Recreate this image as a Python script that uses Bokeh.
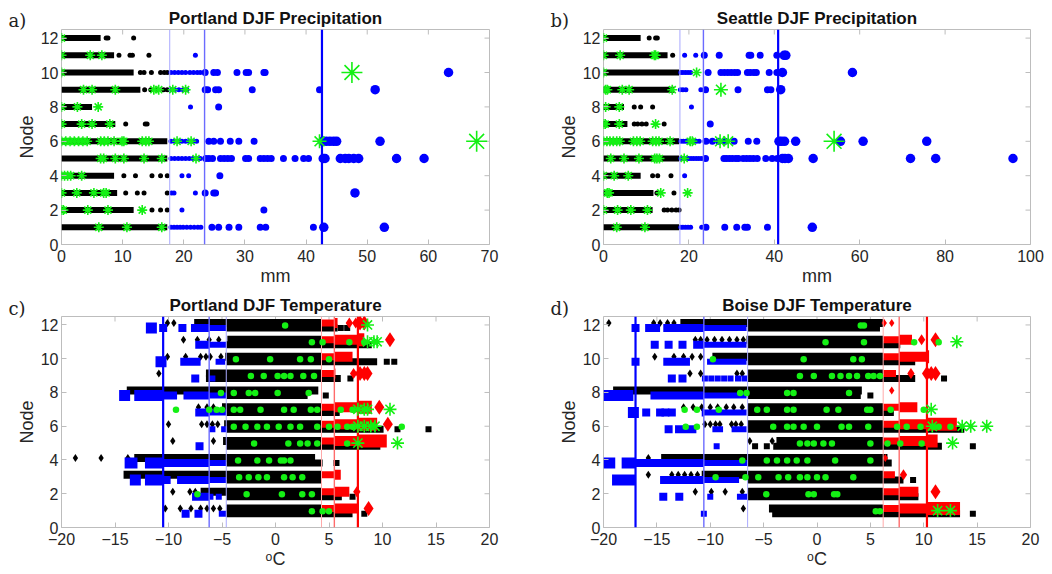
from bokeh.plotting import figure
from bokeh.layouts import gridplot
from bokeh.models import Range1d, FixedTicker, Label
from bokeh.embed import file_html
from bokeh.resources import INLINE

FONT = "Liberation Sans"
NODES = list(range(1, 13))
NODE_TICKS = [0, 2, 4, 6, 8, 10, 12]

# ---------------- Portland DJF precipitation (mm) ----------------
PDX_PR_TICKS = [0, 10, 20, 30, 40, 50, 60, 70]
PDX_PR_LIMITS = [17.7, 23.4, 42.6]
PDX_PR_DENSE_END = [17.3, 11.8, 9.1, 8.6, 17.3, 17.3, 8.8, 5.0, 12.9, 11.8, 8.6, 6.4]
PDX_PR_BLACK = {12: [7.3, 7.6, 11.8], 11: [9.4, 11.2, 11.6, 14.3],
                10: [12.9, 13.5, 14.7, 16.2, 16.8, 17.3], 9: [13.6, 14.6, 15.6, 16.7, 17.3],
                7: [10.5, 13.7, 14.0], 4: [10.2, 12.1, 14.8, 16.2, 17.3],
                3: [10.5, 12.4, 13.5, 17.3], 2: [14.8, 16.2, 17.3]}
PDX_PR_BLUE = {
    1: [17.9, 18.4, 18.9, 19.4, 19.9, 20.5, 21.1, 21.7, 22.3, 22.8, 24.6, 25.7, 27.4, 29.0,
        32.5, 33.4, 41.2, 42.9, 52.8],
    2: [19.7, 33.1],
    3: [18.0, 18.4, 21.9, 23.5, 24.9, 25.2, 48.0],
    4: [19.7, 20.8, 25.9],
    5: [17.9, 18.5, 19.1, 19.7, 20.3, 20.9, 21.5, 22.1, 22.7, 23.6, 24.1, 24.7, 26.0, 26.6,
        27.2, 27.8, 30.1, 30.6, 32.5, 33.1, 33.7, 34.3, 36.3, 38.2, 39.6, 40.4, 42.8, 43.1,
        45.6, 46.4, 47.0, 47.8, 48.6, 54.8, 59.3],
    6: [17.9, 18.5, 19.1, 19.7, 20.3, 20.9, 21.5, 22.1, 24.1, 24.9, 26.0, 27.6, 29.0, 31.5,
        42.7, 43.3, 43.9, 44.5, 45.0, 52.1],
    8: [21.1, 25.7],
    9: [17.9, 18.5, 19.2, 19.9, 20.5, 23.5, 23.9, 25.2, 25.7, 31.2, 42.2, 51.3],
    10: [17.9, 18.5, 19.1, 19.7, 20.3, 21.0, 21.6, 22.2, 22.7, 23.5, 24.9, 25.5, 28.7, 30.2,
         30.6, 33.1, 33.3, 63.3],
    11: [21.9],
}
PDX_PR_STARS = {
    12: [0.0], 11: [0.0, 4.7, 6.6], 10: [0.0, 47.5],
    9: [3.6, 5.0, 8.8, 15.1, 15.9, 18.2, 20.3], 8: [0.0, 2.6, 6.0], 7: [0.0, 3.3, 5.0, 7.9],
    6: [0.0, 0.7, 1.4, 2.1, 2.8, 3.5, 4.2, 6.4, 7.0, 7.6, 8.6, 9.9, 10.2, 13.2, 13.8, 14.3,
        18.9, 21.2, 42.2, 67.9],
    5: [6.4, 6.9, 8.8, 10.2, 13.5, 16.4, 22.0], 4: [0.0, 0.5, 1.0, 1.5, 3.3],
    3: [0.0, 2.5, 5.3, 6.9, 7.3], 2: [0.0, 0.3, 4.3, 7.6, 13.2], 1: [6.1, 10.7, 16.4],
}

# ---------------- Seattle DJF precipitation (mm) ----------------
SEA_PR_TICKS = [0, 20, 40, 60, 80, 100]
SEA_PR_LIMITS = [17.9, 23.4, 40.9]
SEA_PR_DENSE_END = [17.7, 11.5, 11.7, 8.7, 17.7, 17.7, 5.6, 4.8, 16.5, 17.7, 15.0, 8.7]
SEA_PR_BLACK = {12: [10.7, 12.2, 12.6], 11: [16.2], 8: [7.2, 8.7, 11.5],
                7: [7.2, 8.0, 9.0, 10.0, 14.2], 4: [11.5, 12.7, 15.8], 3: [12.5, 16.5],
                2: [14.2, 15.0, 16.0, 17.0, 17.7]}
SEA_PR_BLUE = {
    1: [18.1, 18.6, 19.2, 19.8, 20.4, 23.0, 24.0, 28.4, 31.2, 33.1, 33.7, 38.4, 48.9],
    4: [19.0],
    5: [18.1, 18.7, 19.3, 19.9, 20.5, 21.1, 21.7, 22.3, 22.9, 23.9, 28.2, 28.8, 29.5, 30.2,
        31.0, 31.6, 32.7, 33.5, 34.3, 35.1, 36.0, 38.0, 39.5, 40.7, 41.9, 42.5, 43.3, 49.1,
        71.9, 77.8, 95.9],
    6: [18.1, 18.7, 19.3, 19.9, 20.5, 21.1, 21.7, 22.4, 24.0, 25.5, 27.0, 28.5, 30.6, 33.9,
        35.9, 41.1, 41.7, 42.4, 45.0, 55.5, 60.8, 75.7],
    7: [25.0],
    8: [20.6],
    9: [18.0, 18.6, 19.3, 22.8, 23.9, 31.5, 38.4, 39.2, 41.5],
    10: [18.1, 18.6, 19.2, 19.8, 20.4, 24.5, 27.5, 28.3, 29.1, 29.9, 30.7, 31.4, 33.7, 34.4,
         35.2, 35.8, 38.8, 40.6, 41.9, 58.3],
    11: [19.0, 21.6, 23.6, 27.1, 34.1, 34.5, 36.7, 40.6, 42.3, 42.7],
}
SEA_PR_STARS = {
    12: [0.0], 11: [0.0, 3.9, 11.9, 12.2], 10: [0.0, 21.8], 9: [0.5, 0.9, 4.4, 6.0, 16.1, 27.5],
    8: [0.5, 3.7], 7: [0.0, 0.4, 3.7, 12.2],
    6: [0.0, 0.8, 1.5, 2.3, 3.1, 3.8, 7.0, 7.8, 8.6, 11.5, 12.3, 13.0, 15.6, 20.3, 20.8,
        27.3, 29.2, 54.0],
    5: [1.7, 4.8, 8.3, 12.0, 12.5, 13.1, 18.9], 4: [0.0, 2.5, 5.8],
    3: [0.9, 1.3, 13.4, 19.7], 2: [0.0, 3.3, 6.4, 10.3], 1: [3.1, 9.7],
}

# ---------------- temperature axes (deg C) ----------------
T_TICKS = [-20, -15, -10, -5, 0, 5, 10, 15, 20]

# ---------------- Portland DJF temperature ----------------
PDX_T_COLD = [-10.5, -6.2, -4.6]
PDX_T_WARM = [4.3, 5.5, 7.7]
PDX_T_DIAM_BAND = [(-4.6, 4.3), (-7.0, 4.3), (-14.2, 4.3), (-13.2, 3.7), (-4.9, 4.3), (-4.8, 4.3),
                   (-5.0, 4.3), (-13.9, 4.0), (-6.5, 4.3), (-4.7, 4.3), (-4.5, 4.3), (-7.6, 4.3)]
PDX_T_DIAM = {1: [-10.3, -8.9, -7.9, -7.0, -6.4, -5.8, -5.2], 2: [-9.6, -8.0, -7.5],
              4: [-18.7, -16.3, -13.8], 5: [-9.6, -5.8], 6: [-10.0, -6.9, -6.4, -5.9, -5.4],
              7: [-7.2, -6.4, -5.8], 9: [-10.9], 10: [-10.1, -8.4, -7.0, -6.5, -6.1, -5.1],
              11: [-8.6, -7.3, -6.2, -5.3], 12: [-10.1, -9.5]}
PDX_T_SQ_BAND = [(-4.6, 7.2), (-4.6, 6.2), (-4.6, 4.3), (-4.6, 4.4), (-4.6, 9.8), (-4.6, 10.1),
                 (-4.6, 6.0), (-4.6, 3.0), (-6.5, 6.1), (-4.6, 9.5), (-4.6, 9.0), (-4.6, 5.8)]
PDX_T_SQ = {1: [8.3], 2: [7.2], 4: [5.7], 6: [11.4, 14.3], 8: [4.7], 9: [7.0],
            10: [10.4, 11.1], 12: [6.1, 6.7]}
PDX_T_BLUE_RUNS = {1: [(-5.3, -4.6)], 2: [(-7.8, -5.8)], 3: [(-12.2, -9.8), (-9.2, -4.6)],
                   4: [(-14.1, -12.9), (-12.2, -4.6)], 7: [(-7.5, -4.6)],
                   8: [(-13.2, -9.2), (-8.6, -4.6)], 10: [(-8.9, -7.0), (-5.6, -4.7)],
                   11: [(-7.5, -4.6)], 12: [(-7.9, -4.6)]}
PDX_T_BLUE = {1: [-8.4, -7.2], 2: [-5.3], 3: [-13.1], 5: [-7.1], 6: [-5.9, -4.8], 8: [-14.1],
              9: [-7.5, -5.9], 10: [-10.7], 12: [-11.6, -10.5, -8.7]}
PDX_T_RED_RUNS = {1: [(4.3, 7.8)], 2: [(4.3, 6.9)], 3: [(4.3, 6.1)], 5: [(4.3, 10.4)],
                  6: [(4.3, 9.5)], 7: [(4.3, 9.0)], 9: [(4.3, 5.6)], 10: [(4.3, 7.2)],
                  11: [(4.3, 8.3)], 12: [(4.3, 5.8)]}
PDX_T_RED = {1: [8.7], 2: [7.6], 6: [10.5], 7: [9.7], 9: [7.3, 7.9, 8.3, 8.6], 11: [10.7],
             12: [6.9, 7.5, 7.9, 8.3]}
PDX_T_GREEN = {1: [3.4, 4.4, 5.0], 2: [-7.3, -2.7, 0.6, 2.5, 3.4],
               3: [-3.4, -2.5, -1.6, -0.8, 0.8, 1.6, 2.5], 4: [-3.5, -1.7, -0.6, 0.5, 0.8, 1.4],
               5: [-2.0, 1.2, 2.3, 3.0, 3.9, 6.7],
               6: [-3.9, -2.8, -1.7, -0.8, 0.3, 1.4, 2.3, 3.9, 5.0, 5.8, 6.7, 7.2, 11.8],
               7: [-9.3, -6.2, -5.5, -5.0, -3.9, -3.3, -1.4, 0.8, 1.7, 3.3, 3.9, 6.1, 7.2],
               8: [-5.1, -3.9, -2.5, -1.9, 0.2, 3.1], 9: [-2.3, -1.1, 0.2, 0.8, 1.4, 2.6, 3.6],
               10: [-3.7, -0.5, 2.3, 3.3, 5.0], 11: [3.4, 4.4, 6.9, 8.3], 12: [0.9]}
PDX_T_STARS = {12: [8.6], 11: [8.6, 9.2, 9.5], 7: [7.7, 8.3, 8.6, 10.7], 6: [7.7, 8.3, 8.9, 9.3],
               5: [7.7, 11.4]}

# ---------------- Boise DJF temperature ----------------
BOI_T_COLD = [-17.0, -10.6, -6.5]
BOI_T_WARM = [6.2, 7.7, 10.3]
BOI_T_DIAM_BAND = [(-4.5, 6.2), (-6.5, 6.2), (-10.8, 6.2), (-14.6, 6.6), (-3.8, 6.2), (-6.5, 6.2),
                   (-6.5, 6.2), (-19.1, 4.2), (-6.5, 6.2), (-9.8, 6.2), (-6.6, 6.2), (-12.8, 6.2)]
BOI_T_DIAM = {1: [-6.9], 2: [-11.4, -9.9, -8.6, -7.0], 3: [-15.8, -13.6, -13.0, -12.4, -11.8, -11.2],
              4: [-15.8], 5: [-6.3, -4.2], 6: [-10.5, -10.0, -9.5, -9.1, -8.0, -7.6, -7.1],
              7: [-12.5, -11.6, -10.8, -10.0, -9.3, -8.5, -7.8, -7.0], 9: [-11.9, -10.9, -7.5, -7.0],
              10: [-15.2, -13.4, -12.5, -11.7, -10.9],
              11: [-11.4, -10.9, -10.3, -9.6, -8.9, -8.2, -7.5, -6.9],
              12: [-19.5, -15.3, -14.7, -14.0, -13.4]}
BOI_T_SQ_BAND = [(-4.2, 13.4), (-6.5, 9.5), (-6.5, 8.1), (-6.5, 7.0), (-4.1, 11.7), (-6.5, 13.8),
                 (-6.5, 7.2), (-6.5, 4.1), (-6.5, 9.2), (-6.5, 9.2), (-6.5, 7.8), (-6.5, 5.9)]
BOI_T_SQ = {1: [14.6], 3: [9.0], 5: [-5.8, -4.7, 14.6], 8: [5.0], 9: [11.9]}
BOI_T_BLUE_RUNS = {2: [(-7.5, -6.5)], 3: [(-19.2, -17.0), (-14.7, -7.3)],
                   4: [(-20.0, -18.9), (-18.3, -6.5)],
                   6: [(-13.3, -11.3), (-9.8, -8.8), (-8.0, -6.6)], 7: [(-10.8, -6.6)],
                   8: [(-20.0, -17.2), (-15.6, -6.6)], 10: [(-14.4, -11.9), (-10.3, -6.6)],
                   11: [(-11.6, -6.6)], 12: [(-16.1, -14.7), (-14.4, -6.6)]}
BOI_T_BLUE = {1: [-10.6], 2: [-14.4, -12.9, -10.0], 5: [-9.4], 6: [-13.9],
              7: [-17.2, -16.0, -14.7, -14.2, -13.6],
              9: [-13.6, -12.6, -10.5, -9.9, -9.3, -8.7, -8.1, -7.4, -6.8], 10: [-17.0],
              11: [-15.2, -13.9, -12.6], 12: [-17.0]}
BOI_T_RED_RUNS = {1: [(6.2, 13.4)], 2: [(6.2, 9.5)], 3: [(6.2, 7.3)], 5: [(6.2, 11.3)],
                  6: [(6.2, 13.1)], 7: [(6.2, 9.4)], 9: [(6.2, 7.4)], 10: [(6.2, 10.5)],
                  11: [(6.2, 8.9)]}
BOI_T_RED = {2: [11.1], 3: [8.1], 4: [6.4], 8: [7.0], 9: [8.8, 10.3, 10.7, 11.1],
             11: [9.8, 11.1], 12: [6.3, 7.0]}
BOI_T_GREEN = {1: [5.5, 5.9], 2: [-4.75, -0.8, -0.3, 1.6, 1.9],
               3: [-9.5, -6.7, -5.5, -3.6, -2.7, -1.6, -0.9, 0.0, 0.8, 3.4],
               4: [-7.0, -4.7, -3.75, -2.8, -1.9, -0.9, 1.7, 5.0],
               5: [-1.6, -0.9, -0.3, 0.6, 1.4, 5.0, 6.6, 7.8, 9.8],
               6: [-12.3, -11.25, -4.1, -2.8, -2.2, -1.25, 0.0, 2.3, 3.0, 4.8, 7.5, 8.4, 9.7,
                   10.9, 11.4, 12.5],
               7: [-12.4, -11.25, -9.2, -5.6, -4.7, -2.8, -2.2, 0.9, 2.0, 4.7, 5.0, 6.9, 10.0],
               8: [-7.2, -6.6, -2.8, -2.2, 3.0], 9: [-1.6, -0.3, 1.4, 2.2, 3.0, 3.75, 4.8, 5.3, 5.9],
               10: [-9.75, -1.25, 3.4, 4.2], 11: [0.8, 4.4, 9.1, 11.4], 12: [4.1, 4.4]}
BOI_T_STARS = {1: [11.3, 12.5], 5: [12.7], 6: [10.8, 13.6, 14.4, 15.9], 7: [10.7], 11: [13.1]}

BLUE, RED, GREEN = "#0000ff", "#ff0000", "#14f014"
BLUE_LINES = ["#0000ff", "#6b6bff", "#a9a9ff"]     # dark, medium, light
RED_LINES = ["#ffa9a9", "#ff6b6b", "#ff0000"]      # light, medium, dark
PR_LINES = ["#a9a9ff", "#6b6bff", "#0000ff"]       # light, medium, dark
LINE_WIDTHS_UP = [1, 1.4, 2.2]
LINE_WIDTHS_DOWN = [2.2, 1.4, 1]
BOX = "#bdbdbd"
YMAX = 12.5


def flatten(d, offset=0.0):
    xs, ys = [], []
    for node, vals in d.items():
        for v in vals:
            xs.append(v)
            ys.append(node + offset)
    return xs, ys


def rising_size(v, lim, sizes):
    if v < lim[1]:
        return sizes[0]
    if v < lim[2]:
        return sizes[1]
    return sizes[2]


def falling_size(v, lim, sizes):
    if v >= lim[1]:
        return sizes[0]
    if v >= lim[0]:
        return sizes[1]
    return sizes[2]


def run_pieces(runs, cuts, offset):
    xs, ys, ws = [], [], []
    for node, segs in runs.items():
        for a, b in segs:
            pts = sorted([a, b] + [c for c in cuts if a < c < b])
            for p0, p1 in zip(pts[:-1], pts[1:]):
                xs.append((p0 + p1) / 2)
                ws.append(p1 - p0)
                ys.append(node + offset)
    return xs, ys, ws


def base_figure(title, letter, xr, xticks, xlabel, fw, fh, left, right, top, bottom, letter_gap):
    p = figure(frame_width=fw, frame_height=fh, x_range=Range1d(*xr), y_range=Range1d(0, YMAX),
               min_border_left=left, min_border_right=right, min_border_top=top,
               min_border_bottom=bottom, toolbar_location=None, tools="", output_backend="svg")
    p.xgrid.visible = False
    p.ygrid.visible = False
    p.outline_line_color = BOX
    p.outline_line_width = 1
    p.xaxis.ticker = FixedTicker(ticks=xticks)
    p.yaxis.ticker = FixedTicker(ticks=NODE_TICKS)
    p.xaxis.axis_label = xlabel
    p.yaxis.axis_label = "Node"
    for ax in list(p.xaxis) + list(p.yaxis):
        ax.axis_line_color = None
        ax.major_tick_in = 5
        ax.major_tick_out = 0
        ax.major_tick_line_color = BOX
        ax.minor_tick_line_color = None
        ax.major_label_text_font = FONT
        ax.major_label_text_font_size = "16px"
        ax.major_label_text_color = "#262626"
        ax.axis_label_text_font = FONT
        ax.axis_label_text_font_size = "18px"
        ax.axis_label_text_font_style = "normal"
        ax.axis_label_text_color = "#262626"
    p.xaxis.major_label_standoff = 5
    p.xaxis.axis_label_standoff = 1
    p.yaxis.major_label_standoff = 3
    p.yaxis.axis_label_standoff = 1

    p.title.text = title
    p.title.align = "center"
    p.title.text_font = FONT
    p.title.text_font_size = "17px"
    p.title.text_font_style = "bold"
    p.title.text_color = "#111111"
    p.title.standoff = 3

    # mirrored inward ticks along the top and right edges of the box
    dy = 5 * YMAX / fh
    dx = 5 * (xr[1] - xr[0]) / fw
    p.segment(x0=xticks, y0=[YMAX] * len(xticks), x1=xticks, y1=[YMAX - dy] * len(xticks),
              line_color=BOX, line_width=1)
    p.segment(x0=[xr[1]] * len(NODE_TICKS), y0=NODE_TICKS, x1=[xr[1] - dx] * len(NODE_TICKS),
              y1=NODE_TICKS, line_color=BOX, line_width=1)

    # panel letter, kept in a side panel so it is not clipped to the frame
    lx = xr[0] - 53 * (xr[1] - xr[0]) / fw
    ly = YMAX + letter_gap * YMAX / fh
    p.add_layout(Label(x=lx, y=ly, text=letter, text_align="left", text_baseline="middle",
                       text_font="DejaVu Serif", text_font_size="18px", text_color="#222222"),
                 "right")
    return p


def precip_panel(title, letter, xmax, xticks, limits, dense_end, black, blue, stars,
                 fw, left, right):
    fh = 215
    p = base_figure(title, letter, (0, xmax), xticks, "mm", fw, fh, left, right, 29, 47, 9)
    # continuous run of daily totals near zero
    p.rect(x=[e / 2 for e in dense_end], y=NODES, width=dense_end, height=6,
           height_units="screen", fill_color="black", line_color=None)
    bx, by = flatten(black)
    p.scatter(bx, by, size=5, marker="circle", fill_color="black", line_color=None)
    ux, uy = flatten(blue)
    usz = [rising_size(v, limits, (5, 7, 9.5)) for v in ux]
    p.scatter(ux, uy, size=usz, marker="circle", fill_color=BLUE, line_color=None)
    p.segment(x0=limits, y0=[0] * 3, x1=limits, y1=[YMAX] * 3, line_color=PR_LINES,
              line_width=LINE_WIDTHS_UP)
    sx, sy = flatten(stars)
    ssz = [rising_size(v, limits, (10, 14, 21)) for v in sx]
    p.scatter(sx, sy, size=ssz, marker="asterisk", line_color=GREEN, line_width=1.6)
    return p


def temp_panel(title, letter, cold, warm, diam_band, diam, sq_band, sq, blue_runs, blue,
               red_runs, red, green, stars, fw, left, right):
    fh = 211
    up, dn = 0.12, -0.18
    p = base_figure(title, letter, (-20, 20), T_TICKS, "\u1d52C", fw, fh, left, right, 25, 47, 8)
    # daily values packed into continuous bands
    p.rect(x=[(a + b) / 2 for a, b in diam_band], y=[n + up for n in NODES],
           width=[b - a for a, b in diam_band], height=8, height_units="screen",
           fill_color="black", line_color=None)
    p.rect(x=[(a + b) / 2 for a, b in sq_band], y=[n + dn for n in NODES],
           width=[b - a for a, b in sq_band], height=7, height_units="screen",
           fill_color="black", line_color=None)
    dx, dy = flatten(diam, up)
    p.scatter(dx, dy, size=8, marker="diamond", fill_color="black", line_color=None)
    qx, qy = flatten(sq, dn)
    p.scatter(qx, qy, size=6, marker="square", fill_color="black", line_color=None)
    # cold tail
    rx, ry, rw = run_pieces(blue_runs, cold, dn)
    rh = [falling_size(v, cold, (6, 8, 11)) for v in rx]
    p.rect(x=rx, y=ry, width=rw, height=rh, height_units="screen", fill_color=BLUE,
           line_color=None)
    bx, by = flatten(blue, dn)
    p.scatter(bx, by, size=[falling_size(v, cold, (6, 8, 11)) for v in bx], marker="square",
              fill_color=BLUE, line_color=None)
    # warm tail
    rx, ry, rw = run_pieces(red_runs, warm, up)
    rh = [rising_size(v, warm, (7, 10, 13)) for v in rx]
    p.rect(x=rx, y=ry, width=rw, height=rh, height_units="screen", fill_color=RED,
           line_color=None)
    ex, ey = flatten(red, up)
    p.scatter(ex, ey, size=[rising_size(v, warm, (8, 11, 15)) for v in ex], marker="diamond",
              fill_color=RED, line_color=None)
    # percentile limits
    p.segment(x0=cold, y0=[0] * 3, x1=cold, y1=[YMAX] * 3, line_color=BLUE_LINES,
              line_width=LINE_WIDTHS_DOWN)
    p.segment(x0=warm, y0=[0] * 3, x1=warm, y1=[YMAX] * 3, line_color=RED_LINES,
              line_width=LINE_WIDTHS_UP)
    gx, gy = flatten(green, -0.03)
    p.scatter(gx, gy, size=6.5, marker="circle", fill_color=GREEN, line_color=None)
    sx, sy = flatten(stars)
    p.scatter(sx, sy, size=13, marker="asterisk", line_color=GREEN, line_width=1.6)
    return p


pa = precip_panel("Portland DJF Precipitation", "a)", 70, PDX_PR_TICKS,
                  PDX_PR_LIMITS, PDX_PR_DENSE_END, PDX_PR_BLACK, PDX_PR_BLUE, PDX_PR_STARS,
                  428, 61, 37)
pb = precip_panel("Seattle DJF Precipitation", "b)", 100, SEA_PR_TICKS,
                  SEA_PR_LIMITS, SEA_PR_DENSE_END, SEA_PR_BLACK, SEA_PR_BLUE, SEA_PR_STARS,
                  427, 77, 22)
pc = temp_panel("Portland DJF Temperature", "c)", PDX_T_COLD, PDX_T_WARM, PDX_T_DIAM_BAND,
                PDX_T_DIAM, PDX_T_SQ_BAND, PDX_T_SQ, PDX_T_BLUE_RUNS, PDX_T_BLUE,
                PDX_T_RED_RUNS, PDX_T_RED, PDX_T_GREEN, PDX_T_STARS, 428, 61, 37)
pd = temp_panel("Boise DJF Temperature", "d)", BOI_T_COLD, BOI_T_WARM, BOI_T_DIAM_BAND,
                BOI_T_DIAM, BOI_T_SQ_BAND, BOI_T_SQ, BOI_T_BLUE_RUNS, BOI_T_BLUE,
                BOI_T_RED_RUNS, BOI_T_RED, BOI_T_GREEN, BOI_T_STARS, 427, 77, 22)

grid = gridplot([[pa, pb], [pc, pd]], toolbar_location=None)

with open("out.html", "w") as f:
    f.write(file_html(grid, INLINE))
